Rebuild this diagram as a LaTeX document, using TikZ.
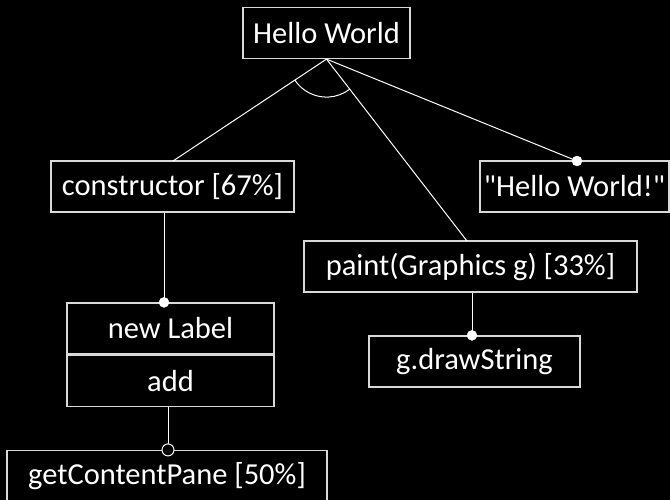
\documentclass[tikz,border=0pt]{standalone}
\usepackage{fontspec}
\setmainfont{Carlito}
\tikzset{
  box/.style={draw=white!85!black, line width=1.2pt, text=white, minimum height=51pt,
    inner sep=0pt, font=\fontsize{30.5}{36}\selectfont},
  link/.style={white, line width=1pt},
  dot/.style={fill=white, draw=white, circle, inner sep=0pt, minimum size=10pt},
  ring/.style={fill=black, draw=white, line width=1pt, circle, inner sep=0pt, minimum size=12pt},
}
\begin{document}
\begin{tikzpicture}[x=1pt, y=-1pt]
  \fill[black] (0,0) rectangle (670,500);
  \clip (0,0) rectangle (670,500);

  % top node and first level
  \node[box, minimum width=167pt] (hello) at (326.5,33) {Hello World};
  \node[box, minimum width=243pt] (ctor) at (172.5,186.5) {constructor [67\%]};
  \node[box, minimum width=189pt] (str) at (574.5,186.5) {\textquotedbl Hello World!\textquotedbl};
  \node[box, minimum width=333pt] (paint) at (470.5,266.5) {paint(Graphics g) [33\%]};

  % second level
  \node[box, minimum width=211pt] (draw) at (474.5,361.5) {g.drawString};
  \node[box, minimum width=207pt] (label) at (170.5,328.5) {new Label};
  \node[box, minimum width=207pt, anchor=north] (add) at (label.south) {add};
  \node[box, minimum width=320pt] (pane) at (167,476) {getContentPane [50\%]};

  % connectors
  \coordinate (apex) at (hello.south);
  \draw[link] (apex) -- (173,161);
  \draw[link] (apex) -- (467,241);
  \draw[link] (apex) -- (577,161);
  \draw[link] (apex) ++(146.7:38) arc[start angle=146.7, end angle=52.2, radius=38];

  \draw[link] (ctor.south -| 164,0) -- (label.north -| 164,0);
  \draw[link] (paint.south -| 472,0) -- (draw.north -| 472,0);
  \draw[link] (add.south -| 168,0) -- (pane.north -| 168,0);

  % end markers
  \node[dot] at (577,161) {};
  \node[dot] at (label.north -| 164,0) {};
  \node[dot] at (draw.north -| 472,0) {};
  \node[ring] at (pane.north -| 168,0) {};
\end{tikzpicture}
\end{document}
